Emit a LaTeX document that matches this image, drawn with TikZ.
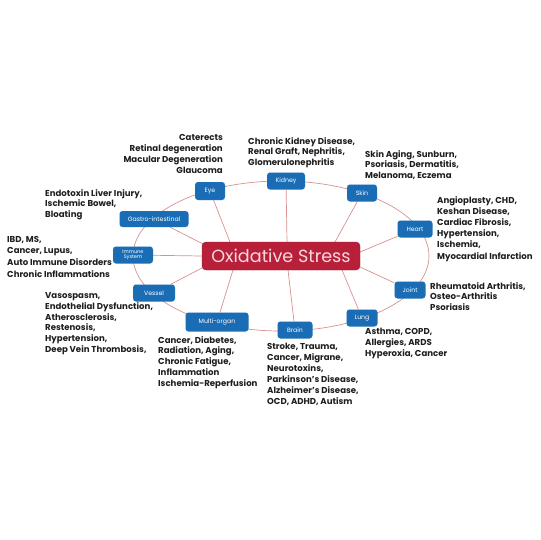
\documentclass[tikz,border=0pt]{standalone}
\usepackage{fontspec}
\setmainfont{Poppins}
\usetikzlibrary{backgrounds}
\definecolor{boxblue}{HTML}{1A6DB4}
\definecolor{boxedge}{HTML}{6FA6D8}
\definecolor{oxred}{HTML}{B8203A}
\definecolor{oxtext}{HTML}{F6D9DE}
\definecolor{linkred}{HTML}{D89090}
\definecolor{txt}{HTML}{1E1E1E}
\tikzset{
  organ/.style={draw=boxedge, densely dotted, fill=boxblue, rounded corners=3pt, text=white,
    font=\fontsize{6.2}{6.6}\selectfont, align=center, inner sep=1pt, minimum height=17pt},
  disease/.style={text=txt, font=\fontsize{8.6}{10.9}\selectfont\bfseries, inner sep=0pt},
  link/.style={draw=linkred, line width=0.7pt},
}
\begin{document}
\begin{tikzpicture}[x=1pt,y=-1pt]
\useasboundingbox (0,0) rectangle (540,540);
% center box
\node[fill=oxred, draw=oxred!80!black, rounded corners=4pt, minimum width=158pt, minimum height=28pt,
  text=oxtext, font=\fontsize{17.6}{18}\selectfont, inner sep=0pt] (ox) at (281,256) {Oxidative Stress};
% organ nodes
\node[organ, minimum width=30pt, minimum height=18pt] (eye) at (210,191) {Eye};
\node[organ, minimum width=38pt] (kidney) at (286,181) {Kidney};
\node[organ, minimum width=30pt] (skin) at (362,193) {Skin};
\node[organ, minimum width=35pt] (heart) at (415,229) {Heart};
\node[organ, minimum width=31pt] (joint) at (410,290) {Joint};
\node[organ, minimum width=31pt] (lung) at (362,318) {Lung};
\node[organ, minimum width=35pt] (brain) at (295,330) {Brain};
\node[organ, minimum width=63pt, minimum height=19pt] (multi) at (217,322) {Multi-organ};
\node[organ, minimum width=42pt] (vessel) at (154,293) {Vessel};
\node[organ, minimum width=40pt, font=\fontsize{5}{5.4}\selectfont] (immune) at (133,255) {Immune\\System};
\node[organ, minimum width=69pt, minimum height=16pt] (gastro) at (154,219) {Gastro-intestinal};
% spoke end points on the center box
\coordinate (pEye) at (230,242);
\coordinate (pKid) at (287,242);
\coordinate (pSkin) at (335,242);
\coordinate (pHeart) at (360,252);
\coordinate (pJoint) at (360,267);
\coordinate (pLung) at (342,270);
\coordinate (pBrain) at (288,270);
\coordinate (pMulti) at (233,270);
\coordinate (pVessel) at (202,268);
\coordinate (pImm) at (202,256);
\coordinate (pGas) at (203,244);
\coordinate (ec) at (281,256);
\begin{scope}[on background layer]
  \draw[link] (ec) ellipse [x radius=148, y radius=75];
  \draw[link] (eye) -- (pEye);
  \draw[link] (kidney) -- (pKid);
  \draw[link] (skin) -- (pSkin);
  \draw[link] (heart) -- (pHeart);
  \draw[link] (joint) -- (pJoint);
  \draw[link] (lung) -- (pLung);
  \draw[link] (brain) -- (pBrain);
  \draw[link] (multi) -- (pMulti);
  \draw[link] (vessel) -- (pVessel);
  \draw[link] (immune) -- (pImm);
  \draw[link] (gastro) -- (pGas);
\end{scope}
% disease texts
\node[disease, align=right, anchor=north east] (teye) at (223,134) {Caterects\\Retinal degeneration\\Macular Degeneration\\Glaucoma};
\node[disease, align=left, anchor=north west] (tkid) at (248,137) {Chronic Kidney Disease,\\Renal Graft, Nephritis,\\Glomerulonephritis};
\node[disease, align=left, anchor=north west] (tskin) at (365,150) {Skin Aging, Sunburn,\\Psoriasis, Dermatitis,\\Melanoma, Eczema};
\node[disease, align=left, anchor=north west, font=\fontsize{8.6}{11.2}\selectfont\bfseries] (theart) at (437,196) {Angioplasty, CHD,\\Keshan Disease,\\Cardiac Fibrosis,\\Hypertension,\\Ischemia,\\Myocardial Infarction};
\node[disease, align=left, anchor=north west] (tjoint) at (430,282) {Rheumatoid Arthritis,\\Osteo-Arthritis\\Psoriasis};
\node[disease, align=left, anchor=north west] (tlung) at (365,328) {Asthma, COPD,\\Allergies, ARDS\\Hyperoxia, Cancer};
\node[disease, align=left, anchor=north west] (tbrain) at (267,343) {Stroke, Trauma,\\Cancer, Migrane,\\Neurotoxins,\\Parkinson's Disease,\\Alzheimer's Disease,\\OCD, ADHD, Autism};
\node[disease, align=left, anchor=north west] (tmulti) at (158,336) {Cancer, Diabetes,\\Radiation, Aging,\\Chronic Fatigue,\\Inflammation\\Ischemia-Reperfusion};
\node[disease, align=left, anchor=north west] (tvessel) at (45,292) {Vasospasm,\\Endothelial Dysfunction,\\Atherosclerosis,\\Restenosis,\\Hypertension,\\Deep Vein Thrombosis,};
\node[disease, align=left, anchor=north west] (tgas) at (45,189) {Endotoxin Liver Injury,\\Ischemic Bowel,\\Bloating};
\node[disease, align=left, anchor=north west, font=\fontsize{8.6}{11.6}\selectfont\bfseries] (timm) at (7,236) {IBD, MS,\\Cancer, Lupus,\\Auto Immune Disorders\\Chronic Inflammations};
\end{tikzpicture}
\end{document}
